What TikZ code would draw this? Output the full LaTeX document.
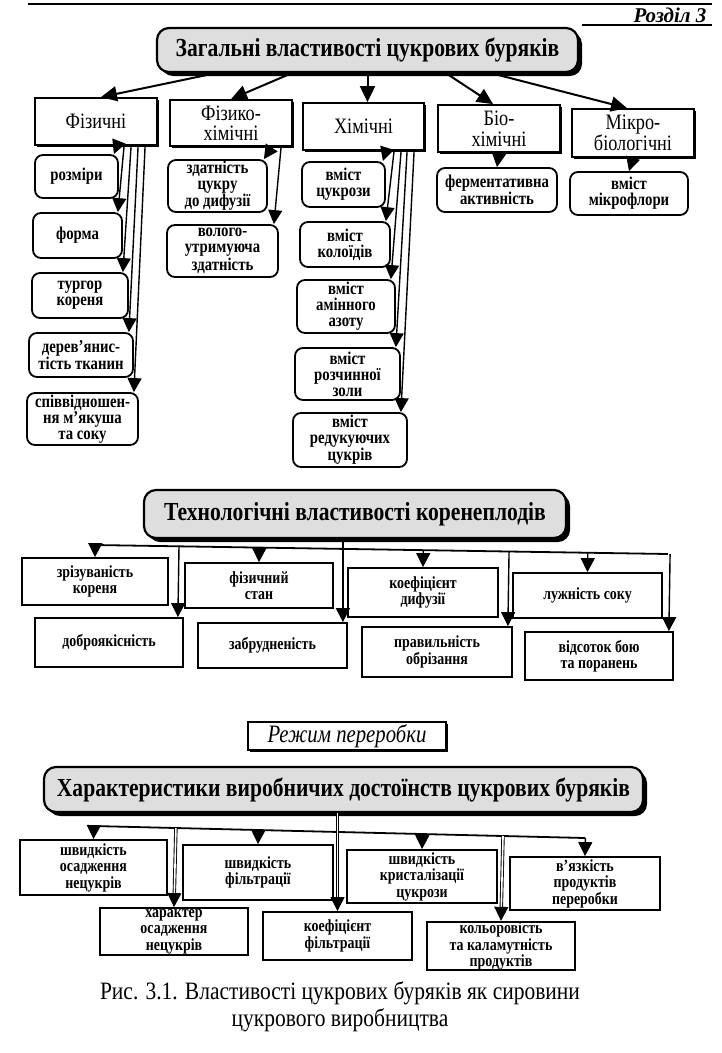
\documentclass[tikz,border=0pt]{standalone}
\usepackage{fontspec}
\setmainfont{Liberation Serif}
\newfontfamily\condf[FakeStretch=0.83]{Liberation Serif}
\newfontfamily\subf[FakeStretch=0.82]{Liberation Serif}
\newfontfamily\capf[FakeStretch=0.86]{Liberation Serif}
\usetikzlibrary{arrows.meta,shadows,calc}
\tikzset{
  sz/.style 2 args={minimum width=#1pt, minimum height=#2pt},
  ttl/.style={draw, line width=2.2pt, rounded corners=12pt, fill=black!13,
    drop shadow={shadow xshift=4pt, shadow yshift=-4pt, opacity=1, fill=black},
    inner sep=0pt, font=\condf\bfseries\fontsize{26}{28}\selectfont},
  cat/.style={draw, line width=1.8pt, fill=white,
    drop shadow={shadow xshift=2pt, shadow yshift=-2pt, opacity=1, fill=black},
    inner sep=0pt, align=center, font=\condf\fontsize{22}{20.5}\selectfont},
  sub/.style={draw, line width=1.8pt, rounded corners=8pt, fill=white, inner sep=0pt,
    align=center, font=\subf\bfseries\fontsize{18}{16}\selectfont},
  rbox/.style={draw, line width=1.8pt, fill=white, inner sep=0pt, align=center,
    font=\subf\bfseries\fontsize{17}{16.5}\selectfont},
  arr/.style={line width=1.4pt, -{Triangle[length=14pt,width=14pt]}},
  bigarr/.style={line width=2pt, -{Triangle[length=16pt,width=15pt]}},
  busline/.style={line width=1.8pt},
  dbl/.style={double, double distance=1.6pt, line width=0.9pt, -{Triangle[length=14pt,width=14pt]}},
}
\begin{document}
\begin{tikzpicture}[x=1pt,y=-1pt]
\useasboundingbox (0,0) rectangle (722,1053);
\fill[white] (0,0) rectangle (722,1053);

% header
\coordinate (hl1) at (28,4);
\coordinate (hl2) at (712,4);
\draw[line width=1.6pt] (hl1) -- (hl2);
\node[font=\bfseries\itshape\fontsize{21}{21}\selectfont, inner sep=0pt] (hdr) at (670,15) {Розділ 3};
\coordinate (hu1) at (582,25);
\coordinate (hu2) at (712,25);
\draw[line width=1.6pt] (hu1) -- (hu2);

% ---------- section 1 ----------
\node[ttl, sz={421}{44}] (T1) at (367.5,50) {Загальні властивості цукрових буряків};

\node[cat, sz={122}{47}] (fz)  at (96,121.5)  {Фізичні};
\node[cat, sz={122}{46}] (fk)  at (231,123)   {Фізико-\\хімічні};
\node[cat, sz={121}{47}] (hm)  at (363.5,126.5) {Хімічні};
\node[cat, sz={122}{47}] (bio) at (499,128.5) {Біо-\\хімічні};
\node[cat, sz={122}{48}] (mk)  at (633,133)   {Мікро-\\біологічні};

\draw[bigarr] ([xshift=60pt]T1.south west) -- ([xshift=5pt]fz.north);
\draw[bigarr] ([xshift=136pt]T1.south west) -- (fk.north);
\coordinate (hmtop) at ([xshift=4pt]hm.north);
\draw[bigarr] (hmtop |- T1.south) -- (hmtop);
\draw[bigarr] ([xshift=290pt]T1.south west) -- ([xshift=-6pt]bio.north);
\draw[bigarr] ([xshift=335pt]T1.south west) -- ([xshift=-6pt]mk.north);

% physical
\node[sub, sz={83}{43}]  (r1) at (76.5,176.5) {розміри};
\node[sub, sz={89}{45}]  (r2) at (77.5,235.5) {форма};
\node[sub, sz={96}{45}]  (r3) at (80,295.5)   {тургор\\кореня};
\node[sub, sz={104}{44}] (r4) at (81,355)     {дерев’янис-\\тість тканин};
\node[sub, sz={111}{52}] (r5) at (82.5,419)   {співвідношен-\\ня м’якуша\\та соку};
\draw[arr] ([xshift=83pt]fz.south west)  -- ([xshift=-5pt]r1.north east);
\draw[arr] ([xshift=90pt]fz.south west)  -- ([xshift=-5pt]r2.north east);
\draw[arr] ([xshift=97pt]fz.south west)  -- ([xshift=-6pt]r3.north east);
\draw[arr] ([xshift=104pt]fz.south west) -- ([xshift=-5pt]r4.north east);
\draw[arr] ([xshift=111pt]fz.south west) -- ([xshift=-5pt]r5.north east);

% physico-chemical
\node[sub, sz={99}{52}]  (z1) at (217.5,186) {здатність\\цукру\\до дифузії};
\node[sub, sz={111}{52}] (z2) at (222.5,251) {волого-\\утримуюча\\здатність};
\draw[arr] ([xshift=103pt]fk.south west) -- ([xshift=-4pt]z1.north east);
\draw[arr] ([xshift=112pt]fk.south west) -- ([xshift=-5pt]z2.north east);

% chemical
\node[sub, sz={83}{45}]  (c1) at (343.5,184.5) {вміст\\цукрози};
\node[sub, sz={90}{45}]  (c2) at (345,244.5)   {вміст\\колоїдів};
\node[sub, sz={98}{53}]  (c3) at (346,306.5)   {вміст\\амінного\\азоту};
\node[sub, sz={105}{52}] (c4) at (347.5,374)   {вміст\\розчинної\\золи};
\node[sub, sz={114}{54}] (c5) at (350,440)     {вміст\\редукуючих\\цукрів};
\draw[arr] ([xshift=84pt]hm.south west)  -- ([xshift=-3pt]c1.north east);
\draw[arr] ([xshift=92pt]hm.south west)  -- ([xshift=-5pt]c2.north east);
\draw[arr] ([xshift=99pt]hm.south west)  -- ([xshift=-5pt]c3.north east);
\draw[arr] ([xshift=105pt]hm.south west) -- ([xshift=-5pt]c4.north east);
\draw[arr] ([xshift=112pt]hm.south west) -- ([xshift=-7pt]c5.north east);

% bio / micro
\node[sub, sz={120}{44}] (fa) at (497,190)   {ферментативна\\активність};
\node[sub, sz={118}{43}] (mf) at (629,193.5) {вміст\\мікрофлори};
\draw[arr] (bio.south) -- (fa.north);
\draw[arr] (mk.south) -- (mf.north);

% ---------- section 2 ----------
\node[ttl, sz={422}{48}] (T2) at (355,514) {Технологічні властивості коренеплодів};

\node[rbox, sz={146}{47}] (zr) at (95,581.5)   {зрізуваність\\кореня};
\node[rbox, sz={148}{45}] (fs) at (259,585.5)  {фізичний\\стан};
\node[rbox, sz={150}{49}] (kd) at (423,592.5)  {коефіцієнт\\дифузії};
\node[rbox, sz={149}{45}] (ls) at (587.5,595.5){лужність соку};
\node[rbox, sz={148}{49}] (dq) at (109,642.5)  {доброякісність};
\node[rbox, sz={149}{45}] (zb) at (272.5,645.5){забрудненість};
\node[rbox, sz={150}{50}] (po) at (437,652)    {правильність\\обрізання};
\node[rbox, sz={148}{48}] (vb) at (599,656)    {відсоток бою\\та поранень};

\coordinate (busL) at (95,545);
\coordinate (busR) at (668,554);
\draw[busline] (busL) -- (busR);
\draw[arr] ($(busL)!(zr.north)!(busR)$) -- (zr.north);
\draw[arr] ($(busL)!(fs.north)!(busR)$) -- (fs.north);
\draw[arr] ($(busL)!(kd.north)!(busR)$) -- (kd.north);
\draw[arr] ($(busL)!(ls.north)!(busR)$) -- (ls.north);
\coordinate (dqt) at ([xshift=-6pt]dq.north east);
\coordinate (zbt) at ([xshift=-5pt]zb.north east);
\coordinate (pot) at ([xshift=-5pt]po.north east);
\coordinate (vbt) at ([xshift=-5pt]vb.north east);
\draw[arr] ($(busL)!(dqt)!(busR)$) -- (dqt);
\draw[arr] (zbt |- T2.south) -- (zbt);
\draw[arr] ($(busL)!(pot)!(busR)$) -- (pot);
\draw[arr] ($(busL)!(vbt)!(busR)$) -- (vbt);

% ---------- section 3 ----------
\node[draw, line width=1.5pt, fill=white, inner sep=0pt, sz={198}{28},
  drop shadow={shadow xshift=2pt, shadow yshift=-2pt, opacity=1, fill=black},
  font=\condf\itshape\fontsize{25}{25}\selectfont] (RP) at (347,736) {Режим переробки};

\node[ttl, sz={599}{45}] (T3) at (343.5,789.5) {Характеристики виробничих достоїнств цукрових буряків};

\node[rbox, sz={147}{55}] (so) at (93.5,867.5) {швидкість\\осадження\\нецукрів};
\node[rbox, sz={150}{55}] (sf) at (258,872.5)  {швидкість\\фільтрації};
\node[rbox, sz={150}{53}] (sk) at (422,876.5)  {швидкість\\кристалізації\\цукрози};
\node[rbox, sz={150}{53}] (vp) at (585,883.5)  {в’язкість\\продуктів\\переробки};
\node[rbox, sz={148}{47}] (ho) at (174,931.5)  {характер\\осадження\\нецукрів};
\node[rbox, sz={149}{48}] (kf) at (337.5,936)  {коефіцієнт\\фільтрації};
\node[rbox, sz={148}{48}] (kk) at (501,946)    {кольоровість\\та каламутність\\продуктів};

\coordinate (bL) at (93.5,826);
\coordinate (bR) at (585,838);
\draw[busline] (bL) -- (bR);
\draw[arr] ($(bL)!(so.north)!(bR)$) -- (so.north);
\draw[arr] ($(bL)!(sf.north)!(bR)$) -- (sf.north);
\draw[arr] ($(bL)!(sk.north)!(bR)$) -- (sk.north);
\draw[arr] ($(bL)!(vp.north)!(bR)$) -- (vp.north);
\draw[dbl] ($(bL)!(ho.north)!(bR)$) -- (ho.north);
\draw[dbl] (kf.north |- T3.south) -- (kf.north);
\draw[dbl] ($(bL)!(kk.north)!(bR)$) -- (kk.north);

% caption
\node[align=center, inner sep=0pt, font=\capf\fontsize{25}{27}\selectfont] (cap) at (340,1007)
  {Рис. 3.1. Властивості цукрових буряків як сировини\\цукрового виробництва};
\end{tikzpicture}
\end{document}
